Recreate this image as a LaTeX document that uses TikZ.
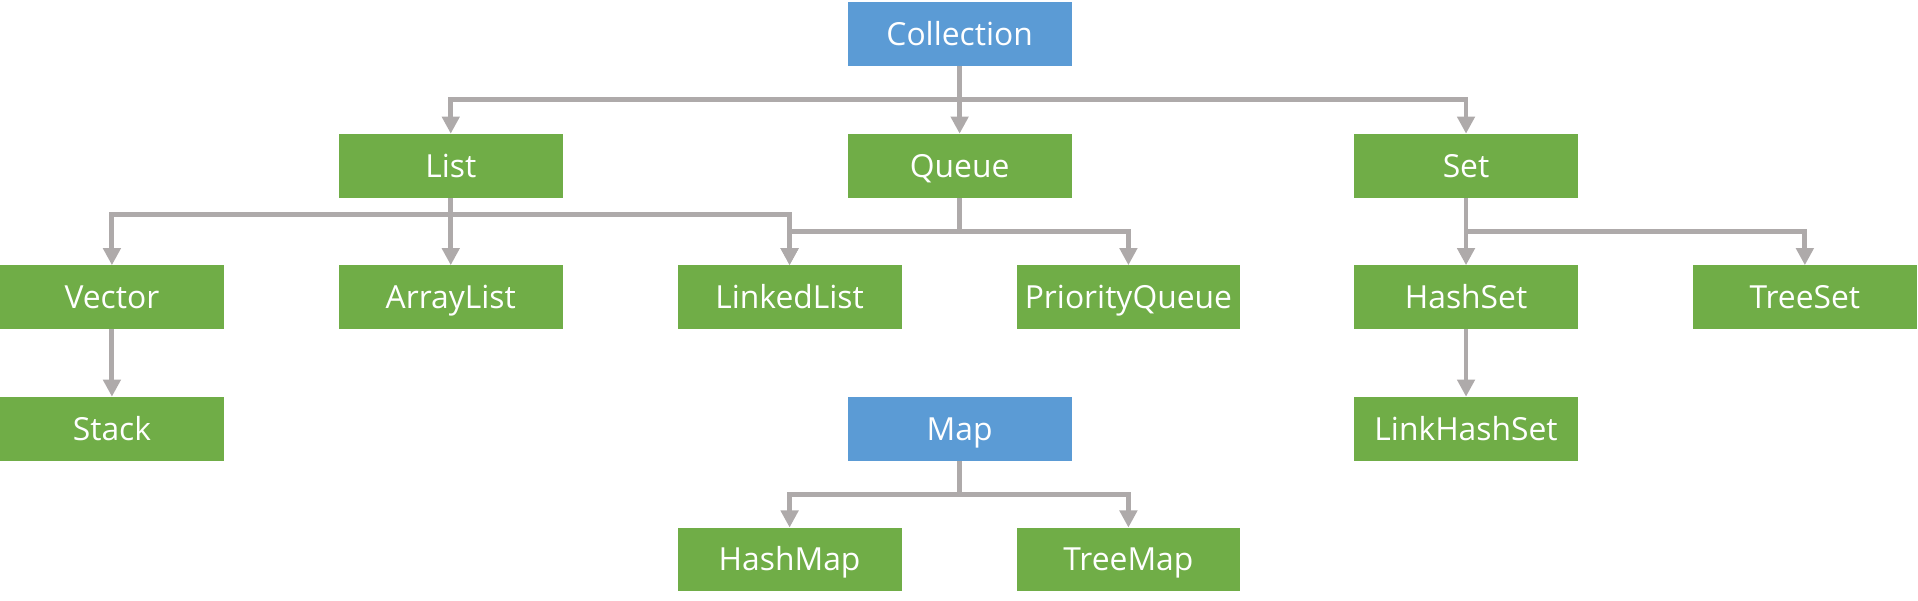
\documentclass[tikz,border=0pt]{standalone}
\usepackage{fontspec}
\setmainfont{Open Sans}
\usetikzlibrary{arrows.meta}
\definecolor{boxblue}{HTML}{5B9BD5}
\definecolor{boxgreen}{HTML}{70AD47}
\definecolor{conngray}{HTML}{AEAAAA}
\tikzset{
  basebox/.style={minimum width=183pt, minimum height=52pt, inner sep=0pt,
    text=white, font=\fontsize{26}{31}\selectfont, text height=18.5pt, text depth=0pt},
  bluebox/.style={basebox, fill=boxblue},
  greenbox/.style={basebox, fill=boxgreen},
  conn/.style={draw=conngray, line width=4pt,
    -{Triangle[width=14pt,length=14pt]}}
}
\begin{document}
\begin{tikzpicture}[x=1pt,y=1pt]
\useasboundingbox (0,0) rectangle (1568,-491);
% row 1
\node[bluebox] (coll) at (784.5,-28) {Collection};
% row 2
\node[greenbox] (list) at (368.5,-135.5) {List};
\node[greenbox] (queue) at (784.5,-135.5) {Queue};
\node[greenbox] (set) at (1198.5,-135.5) {Set};
% row 3
\node[greenbox] (vector) at (91.5,-243) {Vector};
\node[greenbox] (alist) at (368.5,-243) {ArrayList};
\node[greenbox] (llist) at (645.5,-243) {LinkedList};
\node[greenbox] (pqueue) at (922.5,-243) {PriorityQueue};
\node[greenbox] (hset) at (1198.5,-243) {HashSet};
\node[greenbox] (tset) at (1475.5,-243) {TreeSet};
% row 4
\node[greenbox] (stack) at (91.5,-350.5) {Stack};
\node[bluebox] (map) at (784.5,-350.5) {Map};
\node[greenbox] (lhset) at (1198.5,-350.5) {LinkHashSet};
% row 5
\node[greenbox] (hmap) at (645.5,-457.5) {HashMap};
\node[greenbox] (tmap) at (922.5,-457.5) {TreeMap};
% connectors
\coordinate (cj) at (784.5,-81);
\draw[conn] (coll.south) -- (cj) -| (list.north);
\draw[conn] (coll.south) -- (queue.north);
\draw[conn] (cj) -| (set.north);
\coordinate (lj) at (368.5,-175.5);
\draw[conn] (list.south) -- (lj) -| (vector.north);
\draw[conn] (list.south) -- (alist.north);
\draw[conn] (lj) -| (llist.north);
\coordinate (qj) at (784.5,-189);
\draw[conn] (queue.south) -- (qj) -| (llist.north);
\draw[conn] (qj) -| (pqueue.north);
\coordinate (sj) at (1198.5,-189);
\draw[conn] (set.south) -- (hset.north);
\draw[conn] (sj) -| (tset.north);
\draw[conn] (vector.south) -- (stack.north);
\draw[conn] (hset.south) -- (lhset.north);
\coordinate (mj) at (784.5,-404.5);
\draw[conn] (map.south) -- (mj) -| (hmap.north);
\draw[conn] (mj) -| (tmap.north);
\end{tikzpicture}
\end{document}
